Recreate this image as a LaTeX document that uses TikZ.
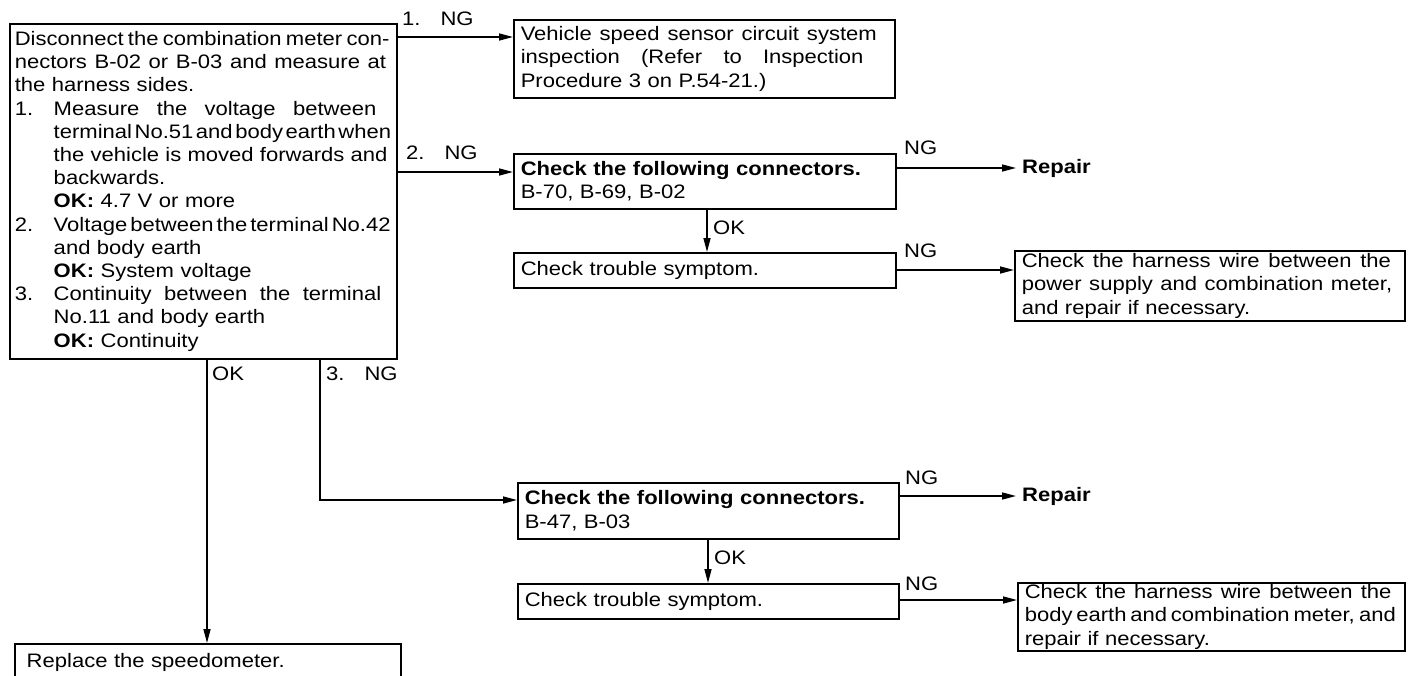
\documentclass[tikz,border=0pt]{standalone}
\usepackage{fontspec}
\setmainfont{Liberation Sans}[FakeStretch=1.13]
\usetikzlibrary{arrows.meta}
\newcommand{\spreadbox}[2]{\makebox[#1][l]{\spaceskip=0.1em plus 1fil\relax #2}}
\newcommand{\numjus}[2]{\makebox[39pt][l]{#1}\spreadbox{338pt}{#2}}
\newcommand{\indjus}[1]{\hspace*{39pt}\spreadbox{338pt}{#1}}
\newcommand{\indleft}[1]{\hspace*{39pt}#1}
\begin{document}
\begin{tikzpicture}[x=1pt,y=-1pt,font=\fontsize{19.5pt}{23.5pt}\selectfont,
 box/.style={draw,line width=1.5pt,anchor=north west,inner xsep=7pt,inner ysep=0pt,align=left},
 arr/.style={line width=1.5pt,-{Triangle[length=14pt,width=7pt]}},
 lbl/.style={inner sep=0pt,anchor=base west},
 rep/.style={inner sep=6pt,anchor=west,font=\fontsize{19.5pt}{23.5pt}\selectfont\bfseries}]
\useasboundingbox (0,0) rectangle (1410,675);
\clip (0,0) rectangle (1410,675);

% main box
\node[box,inner xsep=5pt,text width=377pt,minimum height=335pt,font=\fontsize{19.5pt}{23.2pt}\selectfont] (M) at (9,23) {%
\spreadbox{377pt}{Disconnect the combination meter con-}\\
\spreadbox{377pt}{nectors B-02 or B-03 and measure at}\\
the harness sides.\\
\numjus{1.}{Measure the voltage between}\\
\indjus{terminal No.51 and body earth when}\\
\indjus{the vehicle is moved forwards and}\\
\indleft{backwards.}\\
\indleft{\textbf{OK:} 4.7 V or more}\\
\numjus{2.}{Voltage between the terminal No.42}\\
\indleft{and body earth}\\
\indleft{\textbf{OK:} System voltage}\\
\numjus{3.}{Continuity between the terminal}\\
\indleft{No.11 and body earth}\\
\indleft{\textbf{OK:} Continuity}};

% upper branch
\node[box,text width=367pt,minimum height=78pt] (B1) at (513,19) {%
\spreadbox{362pt}{Vehicle speed sensor circuit system}\\
\spreadbox{362pt}{inspection (Refer to Inspection}\\
Procedure 3 on P.54-21.)};
\node[box,text width=368pt,minimum height=55pt] (B2) at (513,153) {%
\textbf{Check the following connectors.}\\
B-70, B-69, B-02};
\node[box,text width=368pt,minimum height=35pt] (B3) at (513,252) {Check trouble symptom.};
\node[box,text width=376pt,minimum height=70pt] (H1) at (1014,250) {%
\spreadbox{376pt}{Check the harness wire between the}\\
\spreadbox{376pt}{power supply and combination meter,}\\
and repair if necessary.};
\node[rep] (R1) at (1016,168) {Repair};

% lower branch
\node[box,text width=367pt,minimum height=56pt] (B4) at (517,482) {%
\textbf{Check the following connectors.}\\
B-47, B-03};
\node[box,text width=367pt,minimum height=35pt] (B5) at (517,583) {Check trouble symptom.};
\node[box,text width=373pt,minimum height=68pt] (H2) at (1017,582) {%
\spreadbox{373pt}{Check the harness wire between the}\\
\spreadbox{373pt}{body earth and combination meter, and}\\
repair if necessary.};
\node[rep] (R2) at (1016,496) {Repair};
\node[box,inner xsep=12pt,text width=362pt,minimum height=38pt] (S) at (14,643) {Replace the speedometer.};

% connectors, upper
\coordinate (a1) at ([yshift=-18pt]B1.north west);
\draw[arr] (M.east |- a1) -- (a1);
\node[lbl] (l1) at (402,25) {1.\hspace{20pt}NG};
\coordinate (a2) at ([yshift=-19pt]B2.north west);
\draw[arr] (M.east |- a2) -- (a2);
\node[lbl] (l2) at (406,159) {2.\hspace{20pt}NG};
\draw[arr] (B2.east |- R1.west) -- (R1.west);
\node[lbl] (l3) at (904,154) {NG};
\coordinate (k1) at ([xshift=194pt]B2.south west);
\draw[arr] (k1) -- (k1 |- B3.north);
\node[lbl] (l4) at (713,234) {OK};
\coordinate (h1) at ([yshift=-20pt]H1.north west);
\draw[arr] (B3.east |- h1) -- (h1);
\node[lbl] (l5) at (904,257) {NG};

% connectors, lower
\coordinate (o1) at ([xshift=198pt]M.south west);
\draw[arr] (o1) -- (o1 |- S.north);
\node[lbl] (l6) at (212,380) {OK};
\coordinate (o2) at ([xshift=311pt]M.south west);
\coordinate (b4in) at ([yshift=-18pt]B4.north west);
\draw[arr] (o2) |- (b4in);
\node[lbl] (l7) at (326,380) {3.\hspace{20pt}NG};
\draw[arr] (B4.east |- R2.west) -- (R2.west);
\node[lbl] (l8) at (905,484) {NG};
\coordinate (k2) at ([xshift=191pt]B4.south west);
\draw[arr] (k2) -- (k2 |- B5.north);
\node[lbl] (l9) at (714,564) {OK};
\coordinate (h2) at ([yshift=-18pt]H2.north west);
\draw[arr] (B5.east |- h2) -- (h2);
\node[lbl] (l10) at (905,590) {NG};
\end{tikzpicture}
\end{document}
